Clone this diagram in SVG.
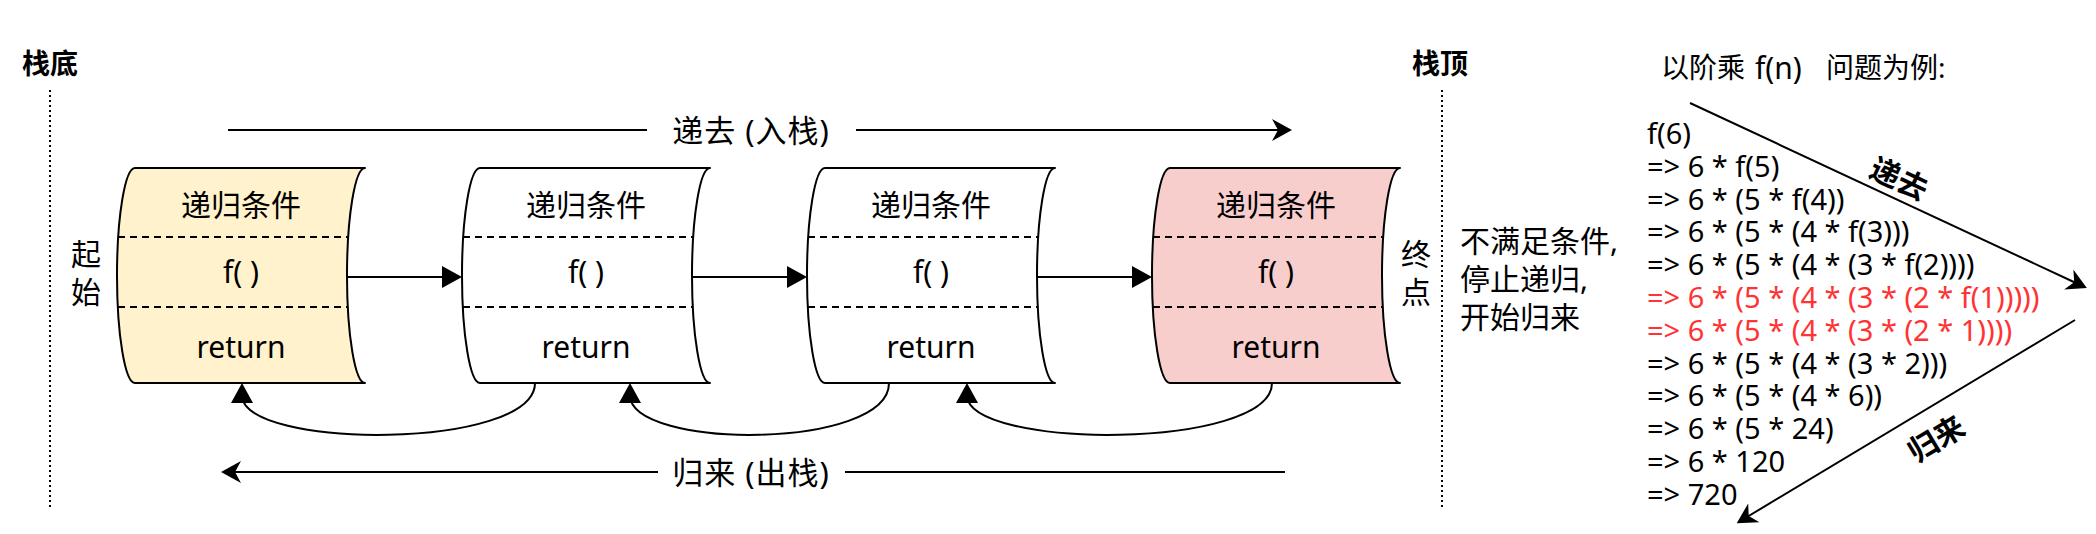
<svg xmlns="http://www.w3.org/2000/svg" width="2096" height="534" viewBox="0 0 2096 534">
<style>
.node{stroke:#000;stroke-width:2;stroke-linejoin:round}
.dash{stroke:#000;stroke-width:2;stroke-dasharray:7 5}
.dot{stroke:#000;stroke-width:2;stroke-dasharray:2 3}
.ln{fill:none;stroke:#000;stroke-width:2}
.cjk{font-family:"Noto Sans","Noto Sans CJK SC",sans-serif;font-size:30px;fill:#000}
.lat{font-family:"Noto Sans","Noto Sans CJK SC",sans-serif;font-size:30px;fill:#000;text-anchor:middle}
.hd{font-family:"Noto Sans CJK SC",sans-serif;font-size:28px;font-weight:bold;fill:#000;dominant-baseline:central}
.math{font-family:"Noto Sans","Noto Sans CJK SC",sans-serif;font-size:29px;fill:#000}
.red{fill:#ff3333}
.mid{text-anchor:middle;dominant-baseline:central}
</style>
<defs>
<marker id="block" viewBox="0 0 20 22" refX="8" refY="11" markerWidth="20" markerHeight="22" orient="auto" markerUnits="userSpaceOnUse"><path d="M0,0 L20,11 L0,22 Z" fill="#000"/></marker>
<marker id="classic" viewBox="0 0 20 22" refX="8" refY="11" markerWidth="20" markerHeight="22" orient="auto" markerUnits="userSpaceOnUse"><path d="M0,0 L20,11 L0,22 L6,11 Z" fill="#000"/></marker>
</defs>
<rect width="2096" height="534" fill="#fff"/>

<g id="labels">
<text class="hd" x="22" y="62">栈底</text>
<text class="hd" x="1412" y="62">栈顶</text>
<line class="dot" x1="50" y1="90" x2="50" y2="508"/>
<line class="dot" x1="1442" y1="90" x2="1442" y2="508"/>
<text class="cjk mid" x="86" y="253">起</text>
<text class="cjk mid" x="86" y="291">始</text>
<text class="cjk mid" x="1416" y="253">终</text>
<text class="cjk mid" x="1416" y="291">点</text>
<text class="cjk mid" x="751" y="130" style="font-size:31px;letter-spacing:1px">递去 (入栈)</text>
<text class="cjk mid" x="751" y="472" style="font-size:31px;letter-spacing:1px">归来 (出栈)</text>
<text class="cjk" x="1460" y="240" dominant-baseline="central">不满足条件,</text>
<text class="cjk" x="1460" y="278" dominant-baseline="central">停止递归,</text>
<text class="cjk" x="1460" y="316" dominant-baseline="central">开始归来</text>
<text class="cjk" y="67" dominant-baseline="central" style="font-size:28px"><tspan x="1661">以阶乘</tspan><tspan x="1755" style="font-size:30px">f(n)</tspan><tspan x="1826">问题为例:</tspan></text>
</g>

<g id="node1">
<path class="node" fill="#fff2cc" d="M135,168 L365,168 A18 107.5 0 0 0 365,383 L135,383 A18 107.5 0 0 1 135,168 Z"/>
<line class="dash" x1="118" y1="237" x2="348" y2="237"/>
<line class="dash" x1="118" y1="307" x2="348" y2="307"/>
<text class="cjk mid" x="241" y="204">递归条件</text>
<text class="lat" x="241" y="283">f( )</text>
<text class="lat" x="241" y="358">return</text>
</g>
<g id="node2">
<path class="node" fill="#fff" d="M480,168 L710,168 A18 107.5 0 0 0 710,383 L480,383 A18 107.5 0 0 1 480,168 Z"/>
<line class="dash" x1="463" y1="237" x2="693" y2="237"/>
<line class="dash" x1="463" y1="307" x2="693" y2="307"/>
<text class="cjk mid" x="586" y="204">递归条件</text>
<text class="lat" x="586" y="283">f( )</text>
<text class="lat" x="586" y="358">return</text>
</g>
<g id="node3">
<path class="node" fill="#fff" d="M825,168 L1055,168 A18 107.5 0 0 0 1055,383 L825,383 A18 107.5 0 0 1 825,168 Z"/>
<line class="dash" x1="808" y1="237" x2="1038" y2="237"/>
<line class="dash" x1="808" y1="307" x2="1038" y2="307"/>
<text class="cjk mid" x="931" y="204">递归条件</text>
<text class="lat" x="931" y="283">f( )</text>
<text class="lat" x="931" y="358">return</text>
</g>
<g id="node4">
<path class="node" fill="#f8cecc" d="M1170,168 L1400,168 A18 107.5 0 0 0 1400,383 L1170,383 A18 107.5 0 0 1 1170,168 Z"/>
<line class="dash" x1="1153" y1="237" x2="1383" y2="237"/>
<line class="dash" x1="1153" y1="307" x2="1383" y2="307"/>
<text class="cjk mid" x="1276" y="204">递归条件</text>
<text class="lat" x="1276" y="283">f( )</text>
<text class="lat" x="1276" y="358">return</text>
</g>

<g id="math">
<text class="math" x="1647" y="144">f(6)</text>
<text class="math" x="1647" y="176.8">=&gt; 6 * f(5)</text>
<text class="math" x="1647" y="209.6">=&gt; 6 * (5 * f(4))</text>
<text class="math" x="1647" y="242.4">=&gt; 6 * (5 * (4 * f(3)))</text>
<text class="math" x="1647" y="275.2">=&gt; 6 * (5 * (4 * (3 * f(2))))</text>
<text class="math red" x="1647" y="308">=&gt; 6 * (5 * (4 * (3 * (2 * f(1)))))</text>
<text class="math red" x="1647" y="340.8">=&gt; 6 * (5 * (4 * (3 * (2 * 1))))</text>
<text class="math" x="1647" y="373.6">=&gt; 6 * (5 * (4 * (3 * 2)))</text>
<text class="math" x="1647" y="406.4">=&gt; 6 * (5 * (4 * 6))</text>
<text class="math" x="1647" y="439.2">=&gt; 6 * (5 * 24)</text>
<text class="math" x="1647" y="472">=&gt; 6 * 120</text>
<text class="math" x="1647" y="504.8">=&gt; 720</text>
<text class="hd" x="1900" y="177" text-anchor="middle" style="font-size:30px" transform="rotate(25 1900 177)">递去</text>
<text class="hd" x="1935" y="437" text-anchor="middle" style="font-size:30px" transform="rotate(-31 1935 437)">归来</text>
</g>

<g id="connectors">
<path class="ln" d="M228,130 L647,130"/>
<path class="ln" d="M856,130 L1280,130" marker-end="url(#classic)"/>
<path class="ln" d="M1285,472 L845,472"/>
<path class="ln" d="M658,472 L233,472" marker-end="url(#classic)"/>
<path class="ln" d="M347,277 L450,277" marker-end="url(#block)"/>
<path class="ln" d="M692,277 L795,277" marker-end="url(#block)"/>
<path class="ln" d="M1037,277 L1140,277" marker-end="url(#block)"/>
<path class="ln" d="M535,383 C535,450 242,450 242,395" marker-end="url(#block)"/>
<path class="ln" d="M889,383 C889,450 630,450 630,395" marker-end="url(#block)"/>
<path class="ln" d="M1272,383 C1272,450 967,450 967,395" marker-end="url(#block)"/>
<path class="ln" d="M1690,103 L2076,283" marker-end="url(#classic)"/>
<path class="ln" d="M2075,320 L1747,517" marker-end="url(#classic)"/>
</g>
</svg>
